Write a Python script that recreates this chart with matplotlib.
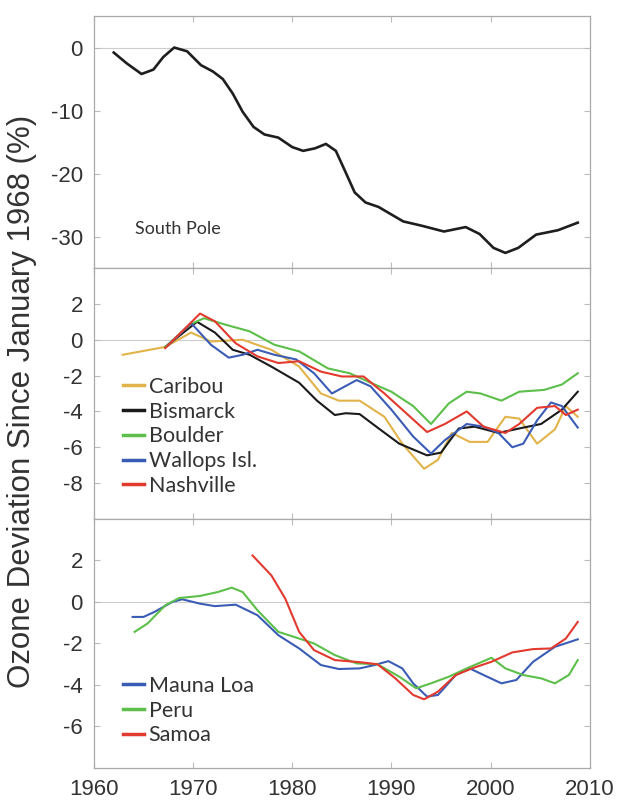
import matplotlib.pyplot as plt

plt.rcParams["axes.unicode_minus"] = False

# South Pole
sp_year = [1962.0, 1963.3, 1964.8, 1966.0, 1967.0, 1968.1, 1969.4, 1970.8, 1972.0,
           1973.0, 1974.0, 1975.0, 1976.1, 1977.2, 1978.6, 1980.0, 1981.1, 1982.3,
           1983.4, 1984.4, 1985.3, 1986.3, 1987.4, 1988.7, 1990.0, 1991.2, 1993.1,
           1995.3, 1997.5, 1998.9, 2000.3, 2001.5, 2002.8, 2004.6, 2006.8, 2008.8]
sp_val = [-0.8, -2.5, -4.2, -3.5, -1.5, 0.0, -0.6, -2.8, -3.8,
          -5.0, -7.3, -10.2, -12.6, -13.8, -14.3, -15.8, -16.4, -16.0,
          -15.3, -16.4, -19.5, -23.0, -24.6, -25.3, -26.5, -27.6, -28.3,
          -29.2, -28.5, -29.6, -31.8, -32.6, -31.8, -29.7, -29.0, -27.8]

# mid-latitude stations
caribou_year = [1962.9, 1967.2, 1969.8, 1971.8, 1975.0, 1977.9, 1980.7, 1982.9, 1984.7,
                1986.8, 1989.3, 1991.1, 1993.3, 1994.7, 1996.1, 1997.9, 1999.7, 2001.5,
                2002.9, 2004.7, 2006.5, 2007.6, 2008.8]
caribou_val = [-0.84, -0.4, 0.4, -0.1, 0.0, -0.56, -1.5, -3.0, -3.4,
               -3.4, -4.3, -5.8, -7.2, -6.7, -5.2, -5.7, -5.7, -4.3,
               -4.4, -5.8, -5.0, -3.7, -4.3]

bismarck_year = [1967.2, 1970.4, 1972.2, 1974.0, 1975.7, 1977.9, 1980.7, 1982.5, 1984.3,
                 1985.4, 1986.8, 1988.6, 1990.8, 1993.6, 1995.0, 1996.8, 1998.4, 2000.8,
                 2002.9, 2005.1, 2007.2, 2008.8]
bismarck_val = [-0.4, 1.0, 0.4, -0.56, -0.84, -1.5, -2.4, -3.4, -4.2,
                -4.1, -4.15, -4.9, -5.8, -6.45, -6.3, -4.95, -4.85, -5.2,
                -4.95, -4.7, -3.9, -2.9]

boulder_year = [1967.2, 1969.7, 1971.1, 1973.2, 1975.7, 1978.2, 1980.7, 1983.6, 1985.8,
                1987.5, 1990.0, 1992.2, 1994.0, 1995.8, 1997.6, 1999.0, 2001.1, 2002.9,
                2005.4, 2007.2, 2008.8]
boulder_val = [-0.4, 0.85, 1.2, 0.85, 0.47, -0.28, -0.65, -1.6, -1.87,
               -2.3, -2.9, -3.7, -4.7, -3.55, -2.9, -3.0, -3.4, -2.9,
               -2.8, -2.5, -1.87]

wallops_year = [1967.5, 1969.8, 1971.8, 1973.6, 1975.0, 1976.5, 1978.2, 1980.4, 1982.2,
                1984.0, 1985.0, 1986.5, 1987.9, 1990.0, 1992.2, 1994.0, 1995.4, 1997.6,
                1999.3, 2000.8, 2002.2, 2003.3, 2004.7, 2006.1, 2007.2, 2008.8]
wallops_val = [-0.3, 0.93, -0.28, -1.0, -0.84, -0.56, -0.84, -1.1, -1.87,
               -3.0, -2.7, -2.25, -2.6, -3.9, -5.4, -6.35, -5.6, -4.7,
               -4.85, -5.2, -6.0, -5.8, -4.5, -3.5, -3.7, -4.9]

nashville_year = [1967.2, 1970.7, 1972.2, 1974.3, 1976.5, 1978.6, 1980.7, 1982.9, 1985.0,
                  1987.2, 1989.3, 1991.5, 1993.6, 1995.4, 1997.6, 1999.3, 2001.5, 2002.9,
                  2004.7, 2006.5, 2007.6, 2008.8]
nashville_val = [-0.47, 1.46, 1.03, -0.2, -0.93, -1.3, -1.2, -1.78, -2.05,
                 -2.05, -3.0, -4.1, -5.15, -4.7, -4.0, -4.85, -5.2, -4.7,
                 -3.8, -3.7, -4.2, -3.9]

# tropical stations
mauna_year = [1963.9, 1965.0, 1966.1, 1967.9, 1968.9, 1970.7, 1972.2, 1974.3, 1976.5,
              1978.6, 1980.7, 1982.9, 1984.7, 1986.8, 1988.3, 1989.7, 1991.1, 1992.2,
              1993.6, 1994.7, 1996.5, 1997.9, 1999.3, 2001.1, 2002.6, 2004.3, 2006.5, 2008.8]
mauna_val = [-0.72, -0.72, -0.48, 0.0, 0.13, -0.08, -0.2, -0.13, -0.64,
             -1.6, -2.24, -3.04, -3.23, -3.2, -3.04, -2.85, -3.2, -3.92,
             -4.56, -4.48, -3.52, -3.2, -3.52, -3.92, -3.76, -2.88, -2.16, -1.8]

peru_year = [1964.1, 1965.4, 1967.2, 1968.6, 1970.7, 1972.5, 1973.9, 1975.0, 1976.5,
             1978.6, 1980.7, 1982.2, 1984.3, 1986.5, 1988.6, 1990.8, 1992.5, 1994.0,
             1995.8, 1997.6, 2000.1, 2001.5, 2003.3, 2005.1, 2006.5, 2007.9, 2008.8]
peru_val = [-1.44, -1.04, -0.16, 0.19, 0.29, 0.48, 0.69, 0.48, -0.4,
            -1.44, -1.76, -2.0, -2.56, -2.96, -3.0, -3.6, -4.16, -3.92,
            -3.6, -3.2, -2.69, -3.2, -3.52, -3.68, -3.92, -3.52, -2.8]

samoa_year = [1976.0, 1977.9, 1979.3, 1980.7, 1982.2, 1984.3, 1986.8, 1988.6, 1990.4,
              1992.2, 1993.3, 1994.7, 1996.5, 1998.3, 2000.1, 2002.2, 2004.3, 2006.1,
              2007.6, 2008.8]
samoa_val = [2.24, 1.28, 0.16, -1.44, -2.32, -2.8, -2.9, -3.0, -3.68,
             -4.48, -4.69, -4.32, -3.52, -3.17, -2.88, -2.43, -2.27, -2.24,
             -1.76, -0.96]

xticks = [1960, 1970, 1980, 1990, 2000, 2010]

tick_font = "Liberation Sans"
lab_font = ["Lato", "DejaVu Sans"]
txt_col = "#333333"

fig = plt.figure(figsize=(6.22, 8.02), dpi=100)
left, width = 0.151, 0.797
ax1 = fig.add_axes([left, 0.6658, width, 0.3142])
ax2 = fig.add_axes([left, 0.3529, width, 0.3129])
ax3 = fig.add_axes([left, 0.0424, width, 0.3105])


def style(ax, ylim, yticks, show_x):
    ax.set_xlim(1960, 2010)
    ax.set_ylim(*ylim)
    ax.axhline(0, color="#cccccc", lw=0.8, zorder=0)
    ax.set_xticks(xticks)
    ax.set_yticks(yticks)
    ax.tick_params(direction="in", length=4, width=0.8, color="#bbbbbb",
                   top=True, right=True, labelcolor=txt_col, labelsize=16, pad=8)
    for lab in ax.get_yticklabels() + ax.get_xticklabels():
        lab.set_fontfamily(tick_font)
    if not show_x:
        ax.tick_params(labelbottom=False)
    for s in ax.spines.values():
        s.set_color("#aaaaaa")
        s.set_linewidth(0.9)


style(ax1, (-35, 5), [-30, -20, -10, 0], False)
style(ax2, (-10, 4), [-8, -6, -4, -2, 0, 2], False)
style(ax3, (-8, 4), [-6, -4, -2, 0, 2], True)

ax1.plot(sp_year, sp_val, color="#1e1e1e", lw=1.9, solid_joinstyle="round")
ax1.text(1964.1, -28.8, "South Pole", fontsize=13, family=lab_font, color=txt_col, va="center")

lw = 1.5
ax2.plot(caribou_year, caribou_val, color="#e2b34a", lw=lw, label="Caribou")
ax2.plot(bismarck_year, bismarck_val, color="#1a1a1a", lw=lw, label="Bismarck")
ax2.plot(boulder_year, boulder_val, color="#5cbf4a", lw=lw, label="Boulder")
ax2.plot(wallops_year, wallops_val, color="#3a5cb5", lw=lw, label="Wallops Isl.")
ax2.plot(nashville_year, nashville_val, color="#e23a2e", lw=lw, label="Nashville")

ax3.plot(mauna_year, mauna_val, color="#3a5cb5", lw=lw, label="Mauna Loa")
ax3.plot(peru_year, peru_val, color="#5cbf4a", lw=lw, label="Peru")
ax3.plot(samoa_year, samoa_val, color="#e23a2e", lw=lw, label="Samoa")

for ax, y0 in [(ax2, 0.566), (ax3, 0.37)]:
    leg = ax.legend(loc="upper left", bbox_to_anchor=(0.058, y0), frameon=False,
                    handlelength=1.0, handletextpad=0.2, labelspacing=0.22,
                    borderpad=0, borderaxespad=0,
                    prop={"family": lab_font, "size": 15.5})
    for t in leg.get_texts():
        t.set_color(txt_col)
    for h in leg.get_lines():
        h.set_linewidth(2.5)

fig.text(0.036, 0.5, "Ozone Deviation Since January 1968 (%)", rotation=90,
         ha="center", va="center", fontsize=22.5, family=tick_font, color=txt_col)

fig.savefig("out.png", dpi=100, facecolor="white")
